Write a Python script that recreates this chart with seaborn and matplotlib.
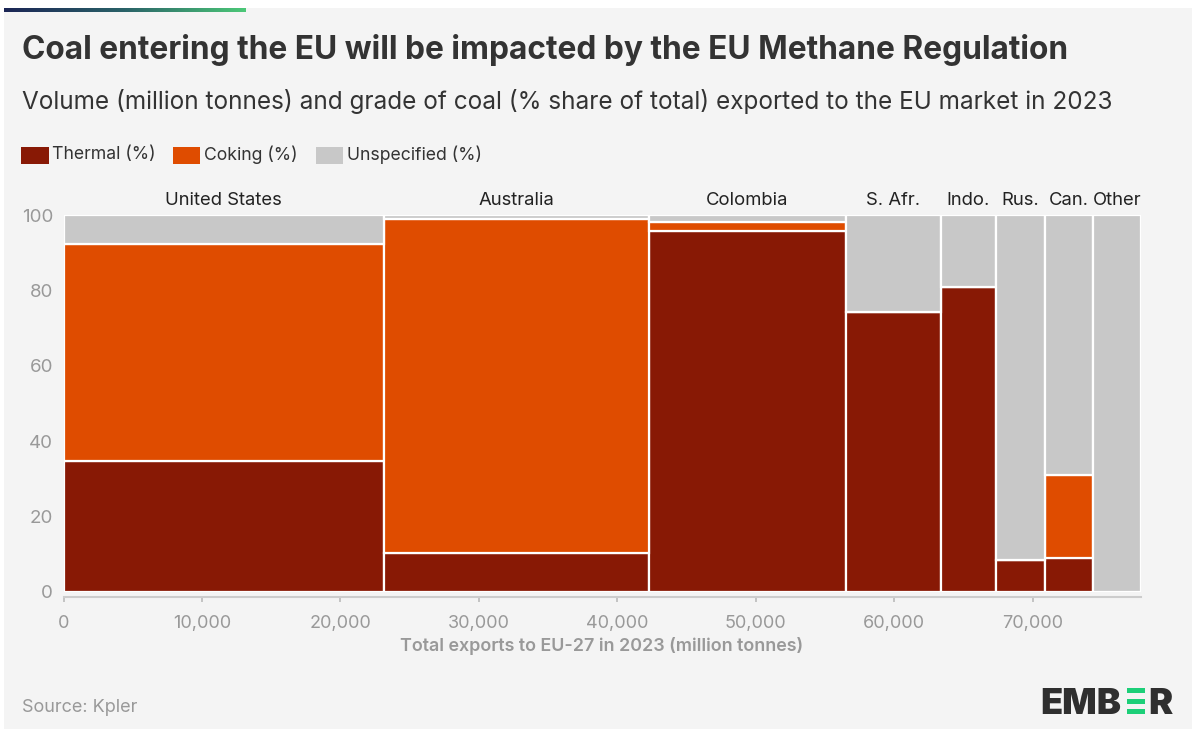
import numpy as np
import pandas as pd
import matplotlib
matplotlib.use("Agg")
import matplotlib.pyplot as plt
import matplotlib.transforms as mtransforms
from matplotlib.patches import Rectangle
from matplotlib.colors import LinearSegmentedColormap
from matplotlib.ticker import FuncFormatter
import seaborn as sns

# ---------------- data ----------------
countries = ["United States", "Australia", "Colombia", "S. Afr.", "Indo.", "Rus.", "Can.", "Other"]
volumes = [23150, 19130, 14230, 6830, 3980, 3570, 3480, 3420]
thermal = [34.7, 10.4, 95.8, 74.3, 81.0, 8.5, 8.9, 0.0]
coking = [57.5, 88.5, 2.4, 0.0, 0.0, 0.0, 22.1, 0.0]
unspecified = [7.8, 1.1, 1.8, 25.7, 19.0, 91.5, 69.0, 100.0]
grades = ["Thermal (%)", "Coking (%)", "Unspecified (%)"]
xticks = [0, 10000, 20000, 30000, 40000, 50000, 60000, 70000]
yticks = [0, 20, 40, 60, 80, 100]

title = "Coal entering the EU will be impacted by the EU Methane Regulation"
subtitle = "Volume (million tonnes) and grade of coal (% share of total) exported to the EU market in 2023"
xlabel = "Total exports to EU-27 in 2023 (million tonnes)"
source = "Source: Kpler"

colors = {"Thermal (%)": "#881905", "Coking (%)": "#df4c00", "Unspecified (%)": "#c8c8c8"}

# ---------------- figure ----------------
W, H = 1196, 733
sns.set_theme(style="white")
plt.rcParams["font.family"] = ["Inter", "DejaVu Sans"]

fig = plt.figure(figsize=(W / 100, H / 100), dpi=100, facecolor="white")


def fx(x):
    return x / W


def fy(y):
    return 1 - y / H


fig.patches.append(Rectangle((fx(4), fy(729)), (W - 8) / W, (729 - 8) / H,
                             transform=fig.transFigure, facecolor="#f4f4f4",
                             edgecolor="none", zorder=-10))

# top gradient bar
axg = fig.add_axes([fx(4), fy(12.5), 242 / W, 4.5 / H])
cmap = LinearSegmentedColormap.from_list("g", ["#1b2555", "#2a6268", "#4cc878"])
axg.imshow(np.linspace(0, 1, 256)[None, :], aspect="auto", cmap=cmap)
axg.set_axis_off()

# main axes
x0, x1, ytop, ybot = 63.5, 1140.6, 215, 592
ax = fig.add_axes([fx(x0), fy(ybot), (x1 - x0) / W, (ybot - ytop) / H])
ax.set_facecolor("none")

edges = [0.0] + [float(v) for v in np.cumsum(volumes)]
mids = [(a + b) / 2 for a, b in zip(edges[:-1], edges[1:])]
rows = []
for i, c in enumerate(countries):
    for g, vals in zip(grades, [thermal, coking, unspecified]):
        rows.append({"country": c, "x": mids[i], "grade": g, "pct": vals[i]})
df = pd.DataFrame(rows)

sns.histplot(data=df, x="x", weights="pct", hue="grade", hue_order=grades[::-1],
             bins=edges, multiple="stack", palette=colors, edgecolor="white",
             linewidth=1.6, alpha=1, legend=False, ax=ax)

ax.set_xlim(0, 77790)
ax.set_ylim(0, 100)
ax.set_xticks(xticks)
ax.set_yticks(yticks)
ax.xaxis.set_major_formatter(FuncFormatter(lambda v, p: f"{v:,.0f}"))
ax.set_xlabel("")
ax.set_ylabel("")
ax.yaxis.grid(True, color="#d8d8d8", lw=1)
ax.xaxis.grid(False)
ax.set_axisbelow(True)
for s in ["left", "top", "right"]:
    ax.spines[s].set_visible(False)
ax.spines["bottom"].set_color("#cccccc")
ax.spines["bottom"].set_linewidth(1.5)
ax.spines["bottom"].set_position(("outward", 3.5))
ax.tick_params(axis="x", length=3.5, width=1.2, color="#bbbbbb", labelcolor="#999999",
               labelsize=13, pad=9.5, bottom=True)
ax.tick_params(axis="y", length=0, labelcolor="#999999", labelsize=13.5, pad=7.5)

# column labels
trans = mtransforms.blended_transform_factory(ax.transData, ax.transAxes)
for m, c in zip(mids, countries):
    ax.text(m, 1 + (ytop - 200.5) / (ybot - ytop), c, transform=trans, ha="center",
            va="center", fontsize=13.3, color="#222222")

# titles
fig.text(fx(22), fy(50), title, fontsize=22.8, fontweight="bold", color="#333333", va="center")
fig.text(fx(22), fy(102), subtitle, fontsize=17.5, color="#333333", va="center")

# legend
leg = [(21.5, 52.3), (172.7, 203.7), (316, 346.7)]
for (sx, tx), g in zip(leg, grades):
    fig.patches.append(Rectangle((fx(sx), fy(163.7)), 27 / W, 16.4 / H,
                                 transform=fig.transFigure, facecolor=colors[g],
                                 edgecolor="none"))
    fig.text(fx(tx), fy(154.5), g, fontsize=12.7, color="#333333", va="center")

# x label
fig.text(fx((x0 + x1) / 2), fy(646), xlabel, fontsize=12.9, fontweight="semibold",
         color="#999999", ha="center", va="center")

# source
fig.text(fx(22), fy(708), source, fontsize=13, color="#999999", va="center")

# logo
fig.text(fx(1040), fy(713.7), "EMB", fontsize=26, fontweight="black", color="#2f2f2f",
         va="baseline", ha="left")
fig.text(fx(1173), fy(713.7), "R", fontsize=26, fontweight="black", color="#2f2f2f",
         va="baseline", ha="right")
for yb in [688.3, 699.3, 709.3]:
    fig.patches.append(Rectangle((fx(1127), fy(yb + 4.4)), 18 / W, 4.4 / H,
                                 transform=fig.transFigure, facecolor="#1ccf78",
                                 edgecolor="none"))

fig.savefig("out.png", dpi=100, facecolor=fig.get_facecolor())
